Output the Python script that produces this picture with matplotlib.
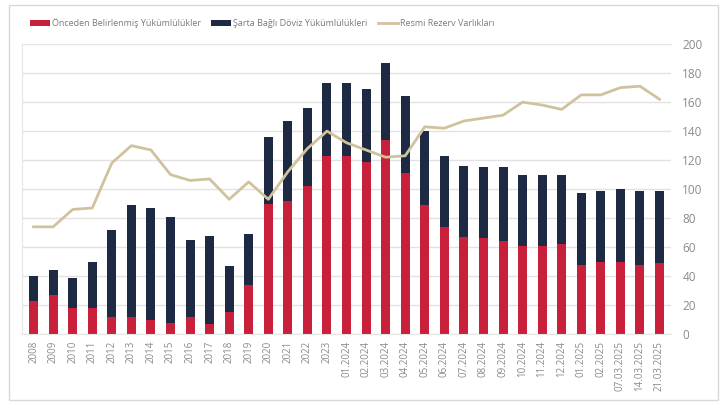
import matplotlib.pyplot as plt
from matplotlib.patches import Rectangle
import numpy as np

plt.rcParams['font.family'] = ['Open Sans', 'DejaVu Sans']

categories = ['2008', '2009', '2010', '2011', '2012', '2013', '2014', '2015',
              '2016', '2017', '2018', '2019', '2020', '2021', '2022', '2023',
              '01.2024', '02.2024', '03.2024', '04.2024', '05.2024', '06.2024',
              '07.2024', '08.2024', '09.2024', '10.2024', '11.2024', '12.2024',
              '01.2025', '02.2025', '07.03.2025', '14.03.2025', '21.03.2025']
onceden = [23, 27, 18, 18, 12, 12, 10, 8, 12, 7, 15, 34, 90, 92, 102, 123,
           123, 119, 134, 111, 89, 74, 67, 66, 64, 61, 61, 62,
           48, 50, 50, 48, 49]
toplam = [40, 44, 39, 50, 72, 89, 87, 81, 65, 68, 47, 69, 136, 147, 156, 173,
          173, 169, 187, 164, 140, 123, 116, 115, 115, 110, 110, 110,
          97, 99, 100, 99, 99]
sarta_bagli = [t - o for t, o in zip(toplam, onceden)]
rezerv = [74, 74, 86, 87, 118, 130, 127, 110, 106, 107, 93, 105, 93, 112, 128, 140,
          132, 127, 122, 123, 143, 142, 147, 149, 151, 160, 158, 155,
          165, 165, 170, 171, 162]

red = '#C8203A'
navy = '#1E2A43'
tan = '#D0C29C'
gray_txt = '#8A8A8A'

x = np.arange(len(categories))

fig = plt.figure(figsize=(7.28, 4.05), dpi=100)
ax = fig.add_axes([0.030, 0.175, 0.892, 0.716])

b1 = ax.bar(x, onceden, width=0.46, color=red, label='Önceden Belirlenmiş Yükümlülükler', zorder=2)
b2 = ax.bar(x, sarta_bagli, width=0.46, bottom=onceden, color=navy,
            label='Şarta Bağlı Döviz Yükümlülükleri', zorder=2)
l1, = ax.plot(x, rezerv, color=tan, lw=2, label='Resmi Rezerv Varlıkları', zorder=3)

ax.set_ylim(0, 200)
ax.set_xlim(-0.6, len(categories) - 0.4)
ax.set_yticks(range(0, 201, 20))
ax.yaxis.tick_right()
ax.grid(axis='y', color='#E2E2E2', lw=1, zorder=0)
ax.set_axisbelow(True)
ax.set_xticks(x)
ax.set_xticklabels(categories, rotation=90, fontsize=7, color=gray_txt)
ax.tick_params(axis='y', labelsize=8.5, colors=gray_txt, length=0, pad=8)
ax.tick_params(axis='x', length=0, pad=5)
for s in ['top', 'left', 'bottom']:
    ax.spines[s].set_color('#E6E6E6')
ax.spines['right'].set_visible(False)

leg = fig.legend([b1, b2, l1], [b1.get_label(), b2.get_label(), l1.get_label()],
                 loc='upper center', bbox_to_anchor=(0.36, 0.975), ncol=3, frameon=False,
                 fontsize=6.5, handlelength=2.2, handleheight=0.6, columnspacing=1.2,
                 handletextpad=0.2)
for t in leg.get_texts():
    t.set_color('#7A7A7A')

fig.patches.append(Rectangle((0.012, 0.012), 0.974, 0.976, transform=fig.transFigure,
                             fill=False, edgecolor='#D8D8D8', lw=1))

fig.savefig('out.png', dpi=100)
